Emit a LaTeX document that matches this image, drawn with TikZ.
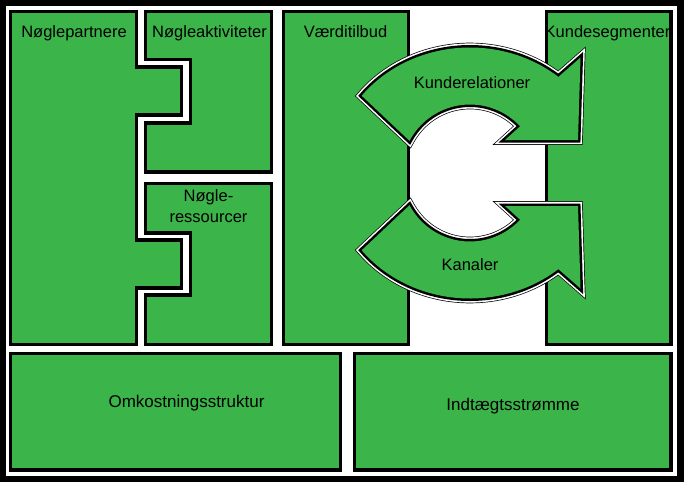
\documentclass[tikz,border=0pt]{standalone}
\usepackage{fontspec}
\setmainfont{Liberation Sans}
\definecolor{bmcgreen}{RGB}{59,181,74}
\begin{document}
\begin{tikzpicture}[x=1pt,y=-1pt,
  block/.style={fill=bmcgreen, draw=black, line width=3.2pt, line join=miter},
  halo/.style={draw=black, line width=9.6pt, line join=miter},
  halowhite/.style={draw=white, line width=8.2pt, line join=miter},
  arrowline/.style={draw=black, fill=bmcgreen, line width=5.0pt, line join=miter},
  lbl/.style={font=\fontsize{16.5}{21}\selectfont, anchor=base, inner sep=0pt, text=black},
  lblb/.style={font=\fontsize{17}{20}\selectfont, anchor=base, inner sep=0pt, text=black}]
\useasboundingbox (0,0) rectangle (684,482);
\fill[black] (0,0) rectangle (684,482);
\fill[white] (6,6) rectangle (677,476);
% blocks
\draw[block] (10.5,11.5) -- (136.5,11.5) -- (136.5,67) -- (181.5,67) -- (181.5,115) -- (136.5,115)
  -- (136.5,240) -- (181.5,240) -- (181.5,288) -- (136.5,288) -- (136.5,344.5) -- (10.5,344.5) -- cycle;
\draw[block] (145.5,11.5) -- (271.5,11.5) -- (271.5,172) -- (145.5,172) -- (145.5,123) -- (190.5,123)
  -- (190.5,59.5) -- (145.5,59.5) -- cycle;
\draw[block] (145.5,183.5) -- (271.5,183.5) -- (271.5,344.5) -- (145.5,344.5) -- (145.5,295) -- (190.5,295)
  -- (190.5,233) -- (145.5,233) -- cycle;
\draw[block] (283.5,11.5) rectangle (408.5,344.5);
\draw[block] (546.5,11.5) rectangle (671,344.5);
\draw[block] (10.5,353.5) rectangle (340.5,470);
\draw[block] (354.5,353.5) rectangle (671,470);
% arrows: outer thin black, white band, inner black line, green fill
\def\toparrow{(218:137.5 and 125.5) arc[start angle=218, end angle=310, x radius=137.5, y radius=125.5]
  -- (110.5,-115.5) -- (108,-33) -- (35,-33) -- (317:68.5) arc[start angle=317, end angle=208, radius=68.5] -- cycle}
\def\botarrow{(142:137.5 and 125.5) arc[start angle=142, end angle=50, x radius=137.5, y radius=125.5]
  -- (110.5,115.5) -- (108,33) -- (35,33) -- (43:68.5) arc[start angle=43, end angle=152, radius=68.5] -- cycle}
\begin{scope}[shift={(470,173)}]
  \path[halo] \toparrow;
  \path[halowhite] \toparrow;
  \path[arrowline] \toparrow;
  \fill[bmcgreen] \toparrow;
  \path[halo] \botarrow;
  \path[halowhite] \botarrow;
  \path[arrowline] \botarrow;
  \fill[bmcgreen] \botarrow;
\end{scope}
% labels
\node[lbl] (kp) at (74,37) {Nøglepartnere};
\node[lbl] (ka) at (209.5,37) {Nøgleaktiviteter};
\node[lbl, align=center, anchor=north] (kr) at (208.5,189.5) {Nøgle-\\ressourcer};
\node[lbl] (vt) at (345.5,37) {Værditilbud};
\node[lbl] (ks) at (607.5,37) {Kundesegmenter};
\node[lbl] (krel) at (472,88) {Kunderelationer};
\node[lbl] (kan) at (470,270) {Kanaler};
\node[lblb] (os) at (186.5,407) {Omkostningsstruktur};
\node[lblb] (is) at (513,410) {Indtægtsstrømme};
\end{tikzpicture}
\end{document}
